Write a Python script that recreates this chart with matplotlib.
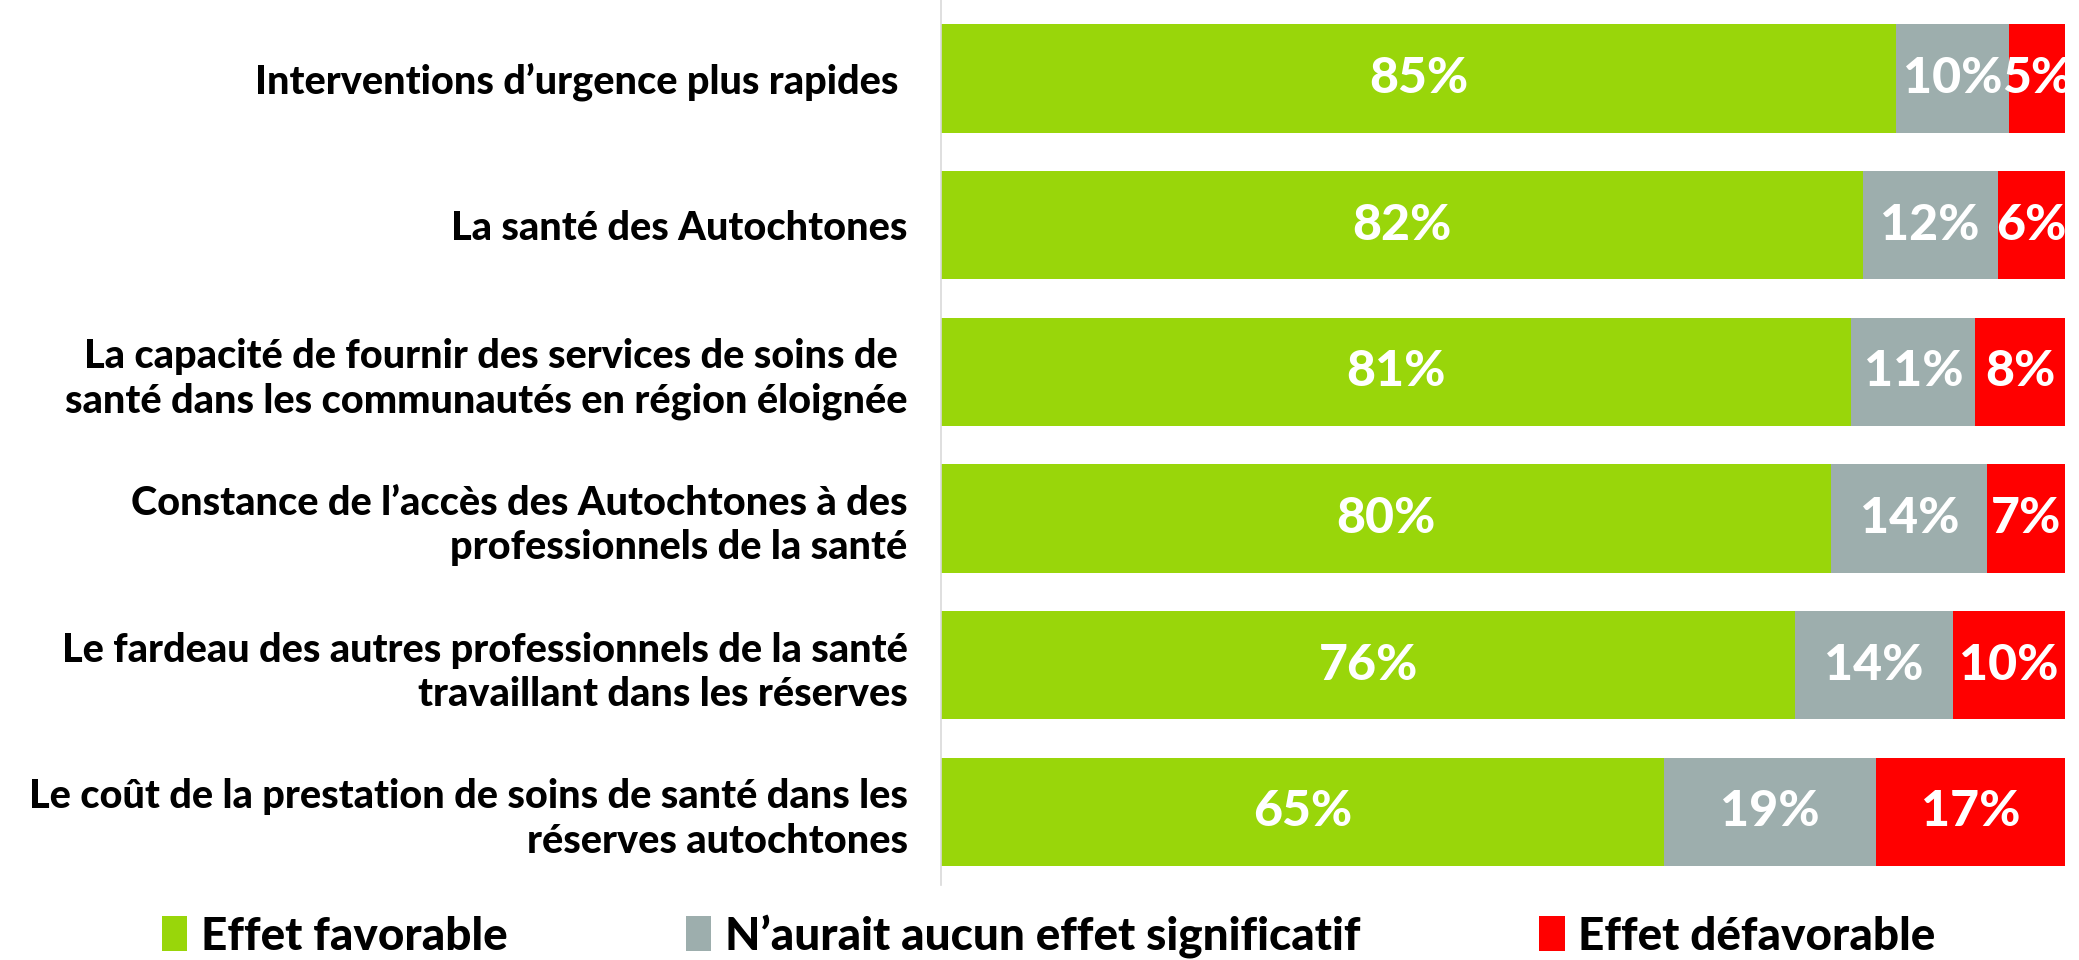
import numpy as np
import matplotlib.pyplot as plt
from matplotlib.patches import Patch

plt.rcParams['font.family'] = ['Lato', 'DejaVu Sans']

categories = [
    "Interventions d\u2019urgence plus rapides ",
    "La sant\u00e9 des Autochtones",
    "La capacit\u00e9 de fournir des services de soins de \nsant\u00e9 dans les communaut\u00e9s en r\u00e9gion \u00e9loign\u00e9e",
    "Constance de l\u2019acc\u00e8s des Autochtones \u00e0 des\nprofessionnels de la sant\u00e9",
    "Le fardeau des autres professionnels de la sant\u00e9\ntravaillant dans les r\u00e9serves",
    "Le co\u00fbt de la prestation de soins de sant\u00e9 dans les\nr\u00e9serves autochtones",
]
favorable = [85, 82, 81, 80, 76, 65]
neutre = [10, 12, 11, 14, 14, 19]
defavorable = [5, 6, 8, 7, 10, 17]

series_names = ["Effet favorable", "N\u2019aurait aucun effet significatif", "Effet d\u00e9favorable"]
colors = ["#99D60A", "#9DAEAD", "#FF0000"]

data = np.array([favorable, neutre, defavorable], dtype=float)
totals = data.sum(axis=0)
shares = data / totals

fig = plt.figure(figsize=(20.79, 9.6), dpi=100)
ax = fig.add_axes([0.4526, 0.078, 0.5407, 0.922])

y = np.arange(len(categories))
left = np.zeros(len(categories))
for vals, share, color in zip(data, shares, colors):
    ax.barh(y, share, left=left, height=0.737, color=color, edgecolor='none')
    for yi, l, s, v in zip(y, left, share, vals):
        ax.text(l + s / 2, yi, f"{int(v)}%", ha='center', va='center',
                color='white', fontsize=36, fontweight='black')
    left += share

ax.set_xlim(0, 1)
ax.set_ylim(5.50, -0.535)
ax.set_yticks(y)
ax.set_yticklabels(categories, fontsize=28.5, fontweight='black', linespacing=1.25)
ax.tick_params(axis='y', length=0, pad=24)
ax.set_xticks([])
for side in ['top', 'right', 'bottom']:
    ax.spines[side].set_visible(False)
ax.spines['left'].set_color('#D9D9D9')
ax.spines['left'].set_linewidth(1.2)

handles = [Patch(facecolor=c, edgecolor='none') for c in colors]
fig.legend(handles, series_names, loc='lower left', bbox_to_anchor=(0.058, -0.041),
           ncol=3, frameon=False, handlelength=0.55, handleheight=0.8,
           handletextpad=0.3, columnspacing=3.9,
           prop={'size': 33, 'weight': 'black'})

fig.savefig("out.png", dpi=100)
